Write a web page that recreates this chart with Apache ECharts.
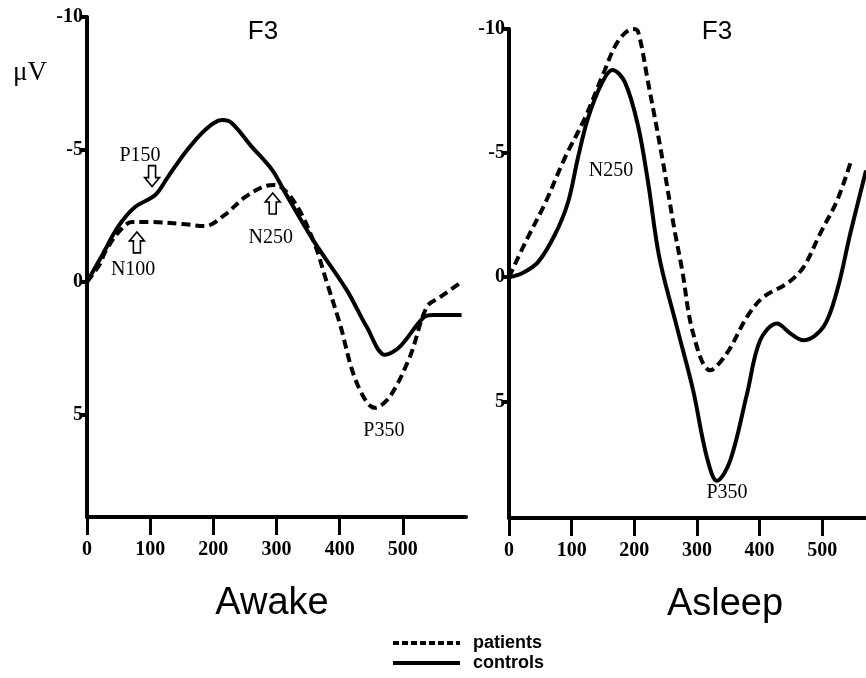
<!DOCTYPE html>
<html><head><meta charset="utf-8">
<script src="https://cdn.jsdelivr.net/npm/echarts@6/dist/echarts.min.js"></script>
<style>html,body{margin:0;padding:0;background:#fff}#c{width:866px;height:678px}</style>
</head><body><div id="c"></div>
<script>
// ---- data (time in ms, amplitude in µV; negative up) ----
const awakeControlsT = [0, 25, 49, 76, 108, 128, 155, 187, 214, 229, 261, 293, 313, 358, 411, 443, 472, 495, 532, 547, 593];
const awakeControlsV = [0, -1.05, -2.08, -2.83, -3.28, -3.96, -4.87, -5.74, -6.11, -6.0, -5.1, -4.23, -3.4, -1.58, 0.3, 1.7, 2.75, 2.45, 1.36, 1.25, 1.25];
const awakePatientsT = [0, 21, 28, 49, 71, 103, 150, 187, 218, 250, 282, 297, 326, 358, 380, 400, 427, 456, 479, 511, 538, 559, 593];
const awakePatientsV = [0, -0.7, -1.1, -1.85, -2.26, -2.26, -2.19, -2.11, -2.53, -3.2, -3.62, -3.66, -3.1, -1.58, 0.04, 1.55, 3.8, 4.75, 4.34, 2.83, 0.94, 0.57, 0.0];
const asleepControlsT = [0, 20, 46, 73, 94, 110, 126, 149, 165, 185, 206, 222, 240, 268, 294, 316, 332, 353, 380, 401, 428, 449, 470, 502, 524, 545, 570];
const asleepControlsV = [0, -0.15, -0.6, -1.7, -3.0, -4.8, -6.4, -7.86, -8.35, -7.86, -6.1, -3.83, -0.8, 2.0, 4.56, 7.26, 8.2, 7.4, 4.7, 2.54, 1.86, 2.26, 2.54, 2.0, 0.52, -1.77, -4.3];
const asleepPatientsT = [0, 26, 58, 89, 121, 149, 174, 198, 206, 222, 244, 265, 276, 294, 321, 348, 380, 406, 444, 470, 497, 524, 545];
const asleepPatientsV = [0, -1.4, -3.0, -4.8, -6.4, -8.1, -9.5, -10.0, -9.9, -7.86, -4.9, -1.8, -0.36, 2.26, 3.75, 3.06, 1.6, 0.8, 0.25, -0.4, -1.77, -3.1, -4.6];

const xTickValues = [0, 100, 200, 300, 400, 500];
const yTickValues = [-10, -5, 0, 5];
const seriesNames = ['patients', 'controls'];
const panelTitles = ['Awake', 'Asleep'];
const electrode = 'F3';
const unitLabel = 'μV';

// annotations: [panel, t, v, text]
const peakLabels = [
  [0, 84, -4.75, 'P150'],
  [0, 73, -0.45, 'N100'],
  [0, 291, -1.66, 'N250'],
  [0, 470, 5.62, 'P350'],
  [1, 163, -4.27, 'N250'],
  [1, 348, 8.7, 'P350']
];
// arrows: [panel, t, v (tip), direction]
const peakArrows = [
  [0, 103, -3.6, 'down'],
  [0, 79, -1.89, 'up'],
  [0, 294, -3.36, 'up']
];

const serif = '"Liberation Serif", "Times New Roman", serif';
const sans = '"Liberation Sans", Arial, sans-serif';
const pairs = (t, v) => t.map((x, i) => [x, v[i]]);
const DASH = [9, 5];

const chart = echarts.init(document.getElementById('c'), null, { renderer: 'canvas' });

function xAxis(gi, max) {
  return {
    type: 'value', gridIndex: gi, min: 0, max: max, interval: 100, position: 'bottom',
    axisLine: { show: true, onZero: false, lineStyle: { color: '#000', width: 4 } },
    axisTick: { show: true, length: 18, inside: false, customValues: xTickValues, lineStyle: { color: '#000', width: 3 } },
    axisLabel: { customValues: xTickValues, color: '#000', fontFamily: serif, fontWeight: 'bold', fontSize: 20, margin: 23 },
    splitLine: { show: false }
  };
}
function yAxis(gi, max) {
  return {
    type: 'value', gridIndex: gi, inverse: true, min: -10, max: max, interval: 5,
    axisLine: { show: true, onZero: false, lineStyle: { color: '#000', width: 4 } },
    axisTick: { show: true, length: 7, customValues: yTickValues, lineStyle: { color: '#000', width: 4 } },
    axisLabel: { customValues: yTickValues, color: '#000', fontFamily: serif, fontWeight: 'bold', fontSize: 20, margin: 4 },
    splitLine: { show: false }
  };
}
function lineSeries(name, gi, t, v) {
  const dashed = name === 'patients';
  return {
    type: 'line', name: name, xAxisIndex: gi, yAxisIndex: gi,
    data: pairs(t, v), smooth: 0.35, symbol: 'none', clip: false,
    lineStyle: { color: '#000', width: 4, type: dashed ? DASH : 'solid' },
    itemStyle: { color: '#000' }
  };
}

chart.setOption({
  animation: false,
  backgroundColor: '#fff',
  grid: [
    { left: 87, top: 17, width: 379, height: 500 },
    { left: 509, top: 29, width: 357, height: 489 }
  ],
  xAxis: [xAxis(0, 600), xAxis(1, 570)],
  yAxis: [yAxis(0, 8.87), yAxis(1, 9.7)],
  series: [
    lineSeries('patients', 0, awakePatientsT, awakePatientsV),
    lineSeries('controls', 0, awakeControlsT, awakeControlsV),
    lineSeries('patients', 1, asleepPatientsT, asleepPatientsV),
    lineSeries('controls', 1, asleepControlsT, asleepControlsV)
  ]
});

const g = [];
const txt = (x, y, s, font, size, weight, align) => ({
  type: 'text', x: x, y: y, silent: true,
  style: { text: s, fontFamily: font, fontSize: size, fontWeight: weight || 'normal', fill: '#000', align: align || 'center', verticalAlign: 'middle' }
});
g.push(txt(263, 32, electrode, sans, 26));
g.push(txt(717, 32, electrode, sans, 26));
g.push(txt(30, 73, unitLabel, serif, 27));
g.push(txt(272, 604, panelTitles[0], sans, 38));
g.push(txt(725, 605, panelTitles[1], sans, 38));

// legend (key)
seriesNames.forEach((name, i) => {
  const y = 643 + i * 20;
  g.push({ type: 'line', silent: true, shape: { x1: 393, y1: y, x2: 460, y2: y },
    style: { stroke: '#000', lineWidth: 4, lineDash: name === 'patients' ? [6, 3] : null } });
  g.push(txt(473, y, name, sans, 18, 'bold', 'left'));
});

peakLabels.forEach(([gi, t, v, s]) => {
  const p = chart.convertToPixel({ gridIndex: gi }, [t, v]);
  g.push(txt(p[0], p[1], s, serif, 20));
});
peakArrows.forEach(([gi, t, v, dir]) => {
  const p = chart.convertToPixel({ gridIndex: gi }, [t, v]);
  const cx = p[0], tip = p[1], L = 21, hw = 7.5, sw = 3.5, hh = 9;
  const s = dir === 'up' ? 1 : -1;
  const pts = [
    [cx, tip], [cx + hw, tip + s * hh], [cx + sw, tip + s * hh], [cx + sw, tip + s * L],
    [cx - sw, tip + s * L], [cx - sw, tip + s * hh], [cx - hw, tip + s * hh]
  ];
  g.push({ type: 'polygon', silent: true, shape: { points: pts }, style: { fill: '#fff', stroke: '#000', lineWidth: 1.6 } });
});
chart.setOption({ graphic: g });
</script>
</body></html>
